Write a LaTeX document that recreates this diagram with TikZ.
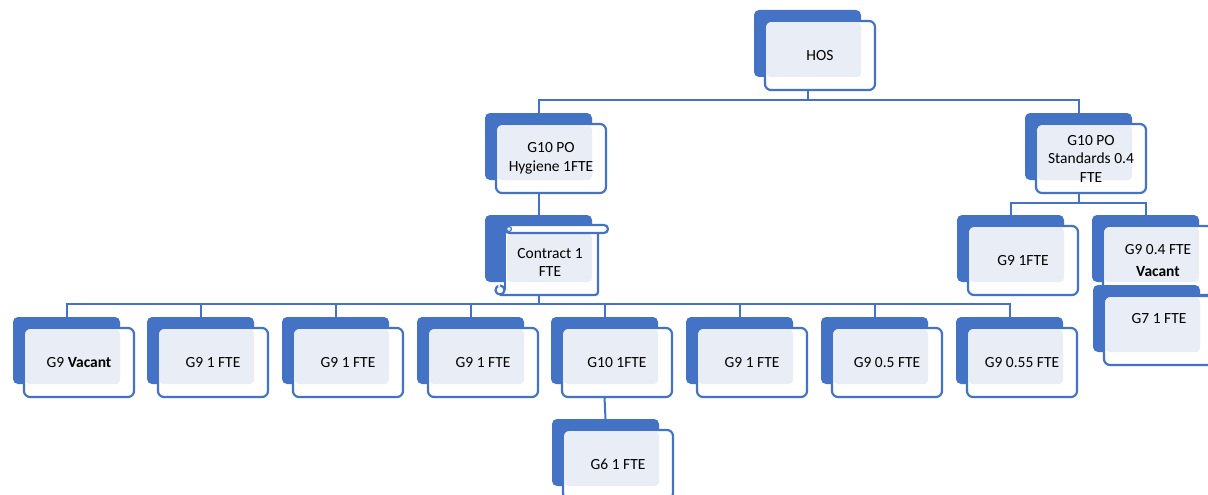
\documentclass[tikz,border=0pt]{standalone}
\usepackage{fontspec}
\setmainfont{Carlito}
\definecolor{myblue}{HTML}{4472C4}
\definecolor{mylight}{RGB}{233,237,246}
\tikzset{
  backbox/.style={fill=myblue, rounded corners=5pt, minimum width=107pt, minimum height=67pt, inner sep=0pt, outer sep=0pt, draw=none},
  frontbox/.style={draw=myblue, line width=2.2pt, fill=white, rounded corners=6pt, minimum width=110pt, minimum height=69pt, inner sep=0pt, outer sep=0pt},
  lite/.style={fill=mylight, rounded corners=4pt},
  lbl/.style={align=center, font=\fontsize{15.5}{18.5}\selectfont, text=black, inner sep=0pt},
  conn/.style={draw=myblue, line width=2pt},
  scrollline/.style={draw=myblue, line width=2.2pt},
}
\newcommand\orgunit[5]{%
  \node[backbox, anchor=north west] (#1b) at (#2,#3) {};
  \node[frontbox, anchor=north west] (#1) at ({#2+11},{#3+11}) {};
  \fill[lite] ({#2+12.5},{#3+12.5}) rectangle ({#2+107},{#3+67});
  \node[lbl] (#1t) at ([yshift=#5]#1.center) {#4};
}
\begin{document}
\begin{tikzpicture}[x=1pt,y=-1pt]
\useasboundingbox (0,0) rectangle (1208,495);
\clip (0,0) rectangle (1208,495);
\fill[white] (0,0) rectangle (1208,495);

% top
\orgunit{hos}{754}{10}{HOS}{0pt}
\orgunit{hyg}{485}{113}{G10 PO\\Hygiene 1FTE}{0pt}
\orgunit{std}{1025}{113}{G10 PO\\Standards 0.4\\FTE}{0pt}

% contract (scroll)
\node[backbox, anchor=north west] (conb) at (485,215) {};
\node[inner sep=0pt, outer sep=0pt, minimum width=103pt, minimum height=70pt, anchor=north west] (con) at (505,225) {};
\fill[white] (505,229) rectangle (598,295);
\fill[lite] (507,234) rectangle (592,282);
\draw[scrollline] (505,231) -- (505,290);
\draw[scrollline, rounded corners=3pt] (598,233) -- (598,295) -- (500,295);
\draw[scrollline, fill=white, rounded corners=4pt] (505,225) rectangle (608,233);
\draw[draw=myblue, line width=1.2pt, fill=mylight] (509,229) circle (2.5);
\draw[scrollline, fill=white] (500,290) circle (4.5);
\fill[mylight] (500,290) ++(0,-2) arc (90:270:2) -- cycle;
\node[lbl] (cont) at (550,262.5) {Contract 1\\FTE};

% bottom row
\orgunit{ca}{13}{317}{G9 \textbf{Vacant}}{0pt}
\orgunit{cb}{147}{317}{G9 1 FTE}{0pt}
\orgunit{cc}{282}{317}{G9 1 FTE}{0pt}
\orgunit{cd}{417}{317}{G9 1 FTE}{0pt}
\orgunit{ce}{551}{317}{G10 1FTE}{0pt}
\orgunit{cf}{686}{317}{G9 1 FTE}{0pt}
\orgunit{cg}{821}{317}{G9 0.5 FTE}{0pt}
\orgunit{ch}{956}{317}{G9 0.55 FTE}{0pt}
\orgunit{gsix}{552}{419}{G6 1 FTE}{0pt}

% standards children
\orgunit{sa}{957}{215}{G9 1FTE}{0pt}
\orgunit{sb}{1092}{215}{G9 0.4 FTE\\[4pt]\textbf{Vacant}}{0pt}
\orgunit{sc}{1093}{285}{G7 1 FTE}{12pt}

% connectors
\draw[conn] (hosb.south |- hos.south) -- ++(0,10) -| (hygb.north);
\draw[conn] (hosb.south |- hos.south) -- ++(0,10) -| (stdb.north);
\draw[conn] (hygb.south |- hyg.south) -- (conb.north);
\foreach \c in {ca,cb,cc,cd,ce,cf,cg,ch}{
  \draw[conn] (conb.south |- con.south) -- ++(0,9) -| (\c b.north);
}
\draw[conn] (ceb.south |- ce.south) -- (gsixb.north);
\draw[conn] (stdb.south |- std.south) -- ++(0,10) -| (sab.north);
\draw[conn] (stdb.south |- std.south) -- ++(0,10) -| (sbb.north);
\end{tikzpicture}
\end{document}
